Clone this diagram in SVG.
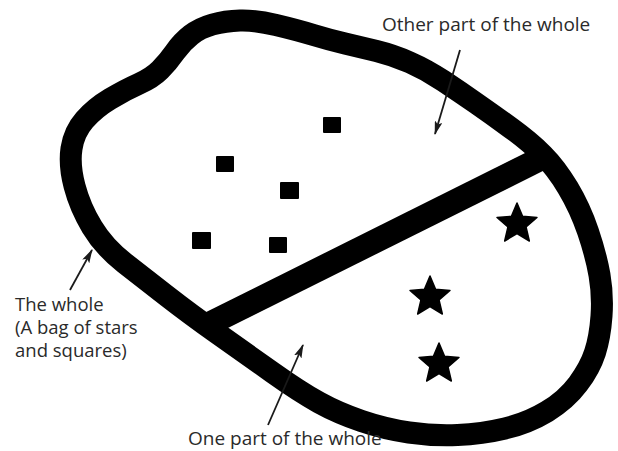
<svg xmlns="http://www.w3.org/2000/svg" width="618" height="451" viewBox="0 0 618 451">
<style>
.outline{fill:none;stroke:#000;stroke-width:22;stroke-linejoin:round}
.divider{fill:none;stroke:#000;stroke-width:24;stroke-linecap:butt}
.sq{fill:#000}
.star{fill:#000;stroke:#000;stroke-width:1.5;stroke-linejoin:round}
.lbl{font-family:"Open Sans","Liberation Sans",sans-serif;font-size:19px;fill:#2a2a2a}
.lbl-s{font-size:18.5px}
.arr{fill:none;stroke:#1a1a1a;stroke-width:1.8;marker-end:url(#ah)}
</style>
<defs>
<marker id="ah" viewBox="0 0 14 8" refX="13" refY="4" markerWidth="14" markerHeight="8" markerUnits="userSpaceOnUse" orient="auto">
<path d="M0,0 L14,4 L0,8 L3,4 Z" fill="#1a1a1a"/>
</marker>
<polygon id="starShape" points="0,-21 5.58,-7.69 19.97,-6.49 9.04,2.94 12.34,16.99 0,9.5 -12.34,16.99 -9.04,2.94 -19.97,-6.49 -5.58,-7.69"/>
</defs>
<rect width="618" height="451" fill="#fff"/>
<g id="bag">
<path class="outline" d="M138.5,84 Q152,78 160,70 Q168,62 175,52 Q182,42 191,35 Q200,28 212.5,24.5 Q225,21 240,20.5 Q255,20 276,25 Q297,30 313.5,35 Q330,40 345,43.5 Q360,47 376.5,51 Q393,55 410,62.5 Q427,70 443.5,81 Q460,92 476.5,103.5 Q493,115 511.5,128.5 Q530,142 543,155 Q556,168 568,188 Q580,208 588,231.5 Q596,255 599.5,275 Q603,295 601.5,316 Q600,337 595,352.5 Q590,368 578,384 Q566,400 547,411.5 Q528,423 505,428.5 Q482,434 457.5,435 Q433,436 409,432.5 Q385,429 361.5,421 Q338,413 319,402.5 Q300,392 272.5,372.5 Q245,353 217.5,333.5 Q190,314 167.5,296.5 Q145,279 124.5,263 Q104,247 92,227 Q80,207 74.5,186 Q69,165 71.5,148.5 Q74,132 84.5,120 Q95,108 110,99 Q125,90 138.5,84 Z"/>
</g>
<g id="divider">
<line class="divider" x1="206" y1="325.5" x2="549" y2="154.6"/>
</g>
<g id="squares">
<rect class="sq" x="323" y="117" width="18" height="16" rx="1"/>
<rect class="sq" x="216" y="156" width="18" height="16" rx="1"/>
<rect class="sq" x="280" y="182" width="19" height="17" rx="1"/>
<rect class="sq" x="192" y="232" width="19" height="17" rx="1"/>
<rect class="sq" x="269" y="237" width="18" height="16" rx="1"/>
</g>
<g id="stars">
<use href="#starShape" class="star" transform="translate(517,224)"/>
<use href="#starShape" class="star" transform="translate(430,297)"/>
<use href="#starShape" class="star" transform="translate(439,364)"/>
</g>
<g id="connectors">
<line class="arr" x1="460" y1="50" x2="435" y2="134"/>
<line class="arr" x1="70" y1="290" x2="92" y2="250"/>
<line class="arr" x1="268" y1="425" x2="303" y2="345"/>
</g>
<g id="label-other">
<text class="lbl" x="382" y="31">Other part of the whole</text>
</g>
<g id="label-whole">
<text class="lbl lbl-s" x="15" y="311">The whole</text>
<text class="lbl lbl-s" x="15" y="334">(A bag of stars</text>
<text class="lbl lbl-s" x="15" y="357">and squares)</text>
</g>
<g id="label-one">
<text class="lbl" x="188" y="445">One part of the whole</text>
</g>
</svg>
